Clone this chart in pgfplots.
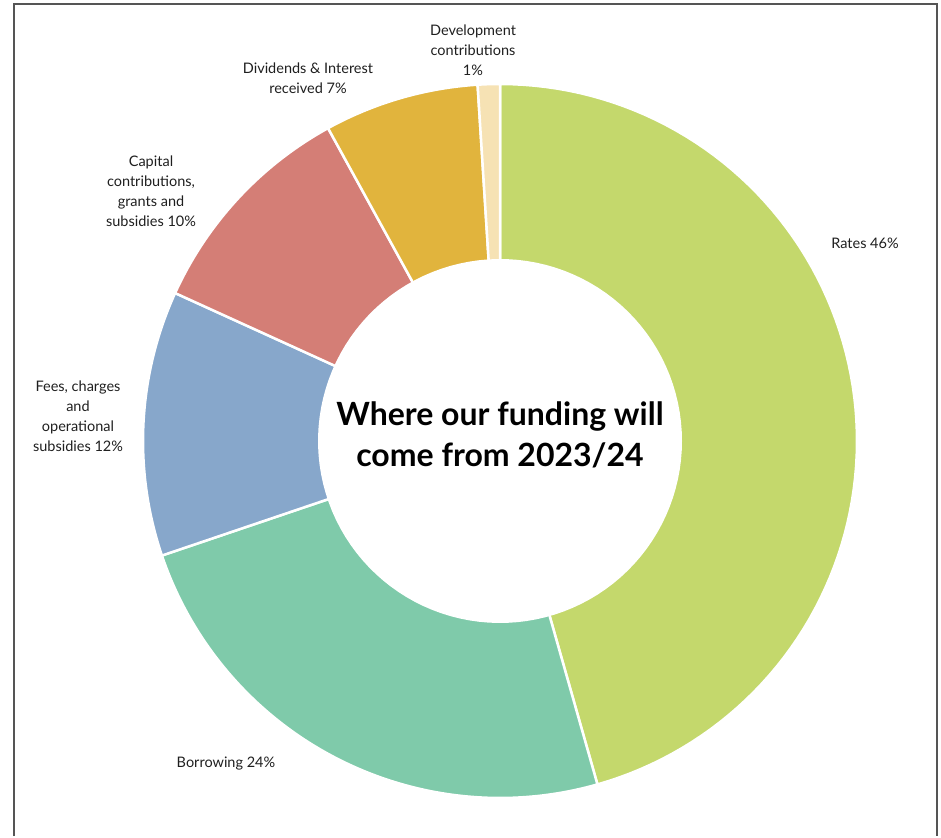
\documentclass[border=0pt]{standalone}
\usepackage{fontspec}
\setmainfont{Lato}
\usepackage{pgfplots}
\pgfplotsset{compat=1.18}

% slice shares (%), clockwise from the top, read off the rings
\def\vRates{45.6}
\def\vBorrow{24.2}
\def\vFees{12.0}
\def\vCapital{10.2}
\def\vDivid{7.0}
\def\vDevel{1.0}

\pgfmathsetmacro\aA{90}
\pgfmathsetmacro\aB{\aA-3.6*\vRates}
\pgfmathsetmacro\aC{\aB-3.6*\vBorrow}
\pgfmathsetmacro\aD{\aC-3.6*\vFees}
\pgfmathsetmacro\aE{\aD-3.6*\vCapital}
\pgfmathsetmacro\aF{\aE-3.6*\vDivid}
\pgfmathsetmacro\aG{\aF-3.6*\vDevel}

\definecolor{cRates}{HTML}{C4D86C}
\definecolor{cBorrow}{HTML}{7FCAAA}
\definecolor{cFees}{HTML}{87A7CB}
\definecolor{cCapital}{HTML}{D47E76}
\definecolor{cDivid}{HTML}{E1B43D}
\definecolor{cDevel}{HTML}{F6E2B4}
\definecolor{frame}{HTML}{555555}

\begin{document}
\begin{tikzpicture}[
  slice/.style={draw=white, line width=2.5pt, samples=90},
  lbl/.style={font=\fontsize{14.5}{20}\selectfont, text=black!88, align=center},
]
\begin{axis}[
  scale only axis,
  width=941pt, height=836pt,
  xmin=0, xmax=941, ymin=0, ymax=836,
  hide axis, clip=false,
]
\path (rel axis cs:0,0) rectangle (rel axis cs:1,1);
\draw[frame, line width=2pt] (axis cs:14,0) -- (axis cs:14,832) -- (axis cs:937,832) -- (axis cs:937,0);

\addplot[slice, fill=cRates, domain=\aB:\aA]   ({500+357*cos(x)},{395+357*sin(x)}) -- (axis cs:500,395) -- cycle;
\addplot[slice, fill=cBorrow, domain=\aC:\aB]  ({500+357*cos(x)},{395+357*sin(x)}) -- (axis cs:500,395) -- cycle;
\addplot[slice, fill=cFees, domain=\aD:\aC]    ({500+357*cos(x)},{395+357*sin(x)}) -- (axis cs:500,395) -- cycle;
\addplot[slice, fill=cCapital, domain=\aE:\aD] ({500+357*cos(x)},{395+357*sin(x)}) -- (axis cs:500,395) -- cycle;
\addplot[slice, fill=cDivid, domain=\aF:\aE]   ({500+357*cos(x)},{395+357*sin(x)}) -- (axis cs:500,395) -- cycle;
\addplot[slice, fill=cDevel, domain=\aG:\aF, samples=10] ({500+357*cos(x)},{395+357*sin(x)}) -- (axis cs:500,395) -- cycle;
% hole
\addplot[draw=none, fill=white, domain=0:360, samples=120] ({500+182*cos(x)},{395+182*sin(x)}) -- cycle;

\node[align=center, font=\fontsize{32}{41}\selectfont\bfseries] at (axis cs:500,401) {Where our funding will\\come from 2023/24};

\node[lbl] at (axis cs:473,786) {Development\\contributions\\1\%};
\node[lbl] at (axis cs:308,758) {Dividends \& Interest\\received 7\%};
\node[lbl] at (axis cs:151,645) {Capital\\contributions,\\grants and\\subsidies 10\%};
\node[lbl] at (axis cs:78,420) {Fees, charges\\and\\operational\\subsidies 12\%};
\node[lbl] at (axis cs:226,72) {Borrowing 24\%};
\node[lbl] at (axis cs:865,593) {Rates 46\%};
\end{axis}
\end{tikzpicture}
\end{document}
